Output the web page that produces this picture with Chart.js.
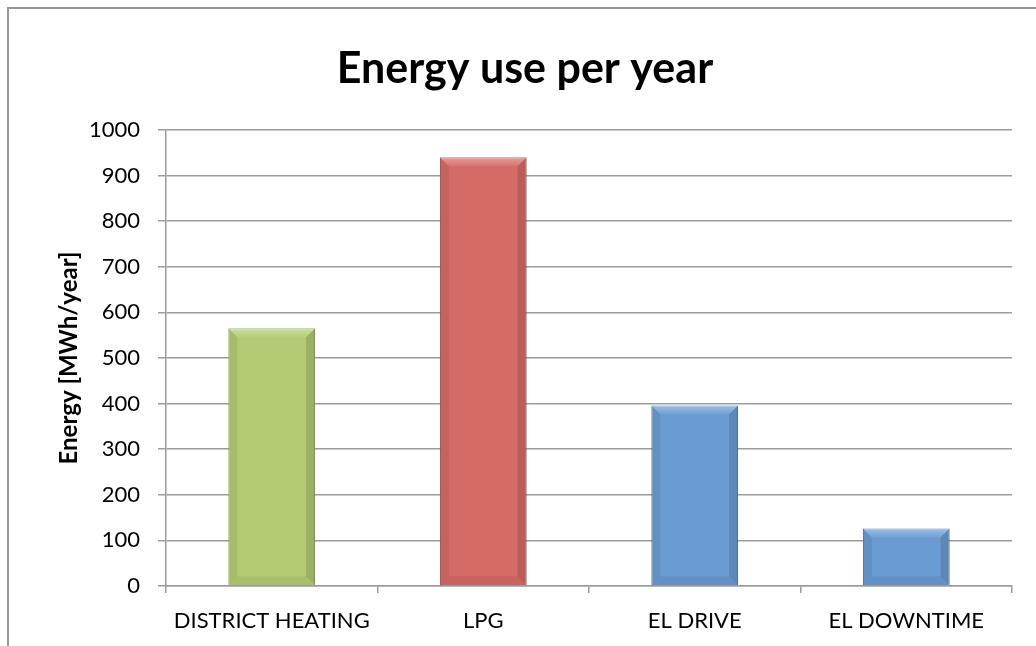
<!DOCTYPE html>
<html>
<head>
<meta charset="utf-8">
<script src="https://cdn.jsdelivr.net/npm/chart.js@4/dist/chart.umd.min.js"></script>
<style>
  html, body { margin: 0; padding: 0; background: #fff; }
  #wrap { width: 1036px; height: 646px; }
</style>
</head>
<body>
<div id="wrap"><canvas id="chart" width="1036" height="646"></canvas></div>
<script>
const categories = ['DISTRICT HEATING', 'LPG', 'EL DRIVE', 'EL DOWNTIME'];
const energyValues = [565, 940, 396, 126];
const yTicks = [0, 100, 200, 300, 400, 500, 600, 700, 800, 900, 1000];
const chartTitle = 'Energy use per year';

const fillColors = ['#b3cb73', '#d46b67', '#6a9bd2', '#6a9bd2'];
const edgeColors = ['#879f4a', '#a94b47', '#46729f', '#46729f'];

const FONT = 'Lato, "Open Sans", sans-serif';
const gridColor = '#9c9c9c';

// frame round the chart (it runs off the right and bottom of the picture) and the title
const framePlugin = {
  id: 'frame',
  beforeDraw(chart) {
    const c = chart.ctx;
    c.save();
    c.fillStyle = '#fff';
    c.fillRect(0, 0, chart.width, chart.height);
    c.strokeStyle = '#979797';
    c.lineWidth = 2;
    c.strokeRect(8, 8, chart.width + 20, chart.height + 20);
    c.fillStyle = '#000';
    c.font = 'bold 43px ' + FONT;
    c.textAlign = 'center';
    c.textBaseline = 'alphabetic';
    c.fillText(chartTitle, 525, 83);
    c.restore();
  }
};

// soft bevel on each bar, using the bar geometry from the library
const bevelPlugin = {
  id: 'bevel',
  afterDatasetsDraw(chart) {
    const c = chart.ctx;
    chart.getDatasetMeta(0).data.forEach(bar => {
      const { x, y, base, width } = bar.getProps(['x', 'y', 'base', 'width'], true);
      const l = x - width / 2, r = x + width / 2, b = 9;
      c.save();
      const top = c.createLinearGradient(0, y, 0, y + b);
      top.addColorStop(0, 'rgba(255,255,255,0.35)');
      top.addColorStop(1, 'rgba(255,255,255,0.05)');
      c.fillStyle = top;
      c.beginPath();
      c.moveTo(l, y); c.lineTo(r, y); c.lineTo(r - b, y + b); c.lineTo(l + b, y + b);
      c.closePath(); c.fill();
      c.fillStyle = 'rgba(0,0,0,0.07)';
      c.beginPath();
      c.moveTo(l, y); c.lineTo(l + b, y + b); c.lineTo(l + b, base - b); c.lineTo(l, base);
      c.closePath(); c.fill();
      c.fillStyle = 'rgba(0,0,0,0.13)';
      c.beginPath();
      c.moveTo(r, y); c.lineTo(r - b, y + b); c.lineTo(r - b, base - b); c.lineTo(r, base);
      c.closePath(); c.fill();
      c.fillStyle = 'rgba(0,0,0,0.06)';
      c.beginPath();
      c.moveTo(l, base); c.lineTo(l + b, base - b); c.lineTo(r - b, base - b); c.lineTo(r, base);
      c.closePath(); c.fill();
      c.restore();
    });
  }
};

new Chart(document.getElementById('chart'), {
  type: 'bar',
  data: {
    labels: categories,
    datasets: [{
      data: energyValues,
      backgroundColor: fillColors,
      borderColor: edgeColors,
      borderWidth: 1,
      categoryPercentage: 1,
      barPercentage: 0.41
    }]
  },
  options: {
    responsive: false,
    animation: false,
    layout: { padding: { left: 0, right: 24, top: 130, bottom: 0 } },
    plugins: {
      legend: { display: false },
      tooltip: { enabled: false },
      title: { display: false }
    },
    scales: {
      x: {
        offset: true,
        grid: { drawOnChartArea: false, drawTicks: true, tickLength: 7, color: gridColor, lineWidth: 1.5, offset: true },
        border: { display: true, color: gridColor, width: 1.5 },
        ticks: { color: '#000', font: { family: FONT, size: 22 }, padding: 15, maxRotation: 0 },
        afterFit(scale) { scale.height = 60; }
      },
      y: {
        min: 0,
        max: 1000,
        afterBuildTicks(scale) { scale.ticks = yTicks.map(v => ({ value: v })); },
        grid: { color: gridColor, lineWidth: 1.5, tickLength: 8 },
        border: { display: true, color: gridColor, width: 1.5 },
        ticks: { color: '#000', font: { family: FONT, size: 22 }, padding: 18, callback: v => String(v) },
        title: {
          display: true,
          text: 'Energy [MWh/year]',
          color: '#000',
          font: { family: FONT, size: 24, weight: 'bold', lineHeight: 1.2 },
          padding: { top: 55, bottom: 0 }
        },
        afterFit(scale) { scale.width = 166; }
      }
    }
  },
  plugins: [framePlugin, bevelPlugin]
});
</script>
</body>
</html>
